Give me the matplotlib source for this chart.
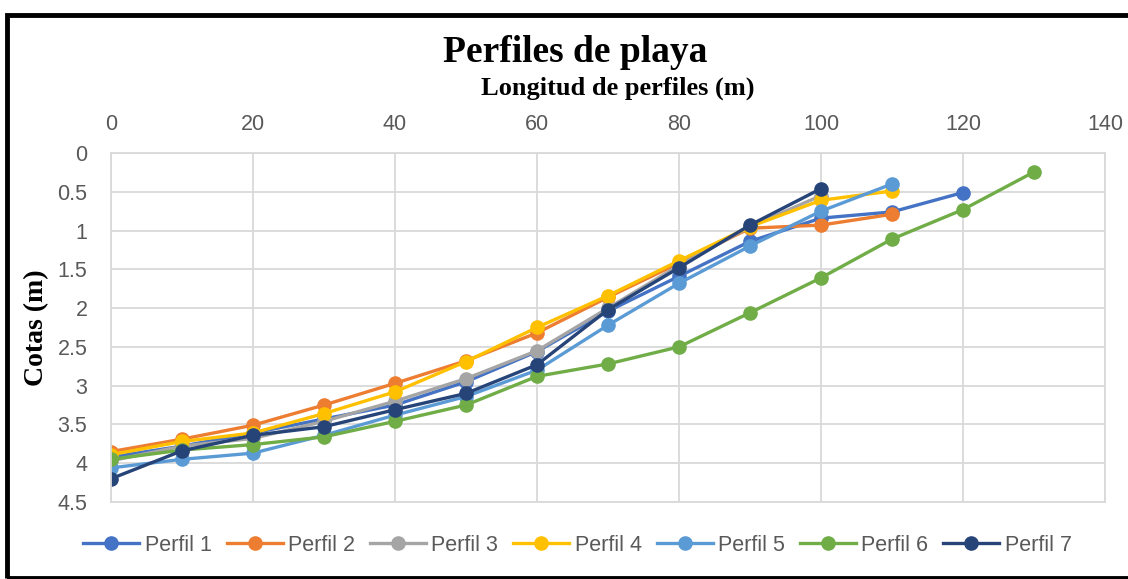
import matplotlib.pyplot as plt
from matplotlib.patches import Rectangle

# Distancias (m) y cotas (m)
dist = [0, 10, 20, 30, 40, 50, 60, 70, 80, 90, 100, 110, 120, 130]

perfil_1 = [3.92, 3.78, 3.61, 3.43, 3.25, 2.95, 2.56, 2.04, 1.59, 1.14, 0.84, 0.76, 0.51]
perfil_2 = [3.85, 3.69, 3.51, 3.25, 2.97, 2.68, 2.32, 1.86, 1.42, 0.97, 0.93, 0.79]
perfil_3 = [3.97, 3.78, 3.68, 3.46, 3.20, 2.91, 2.55, 2.00, 1.45, 0.95, 0.55]
perfil_4 = [3.89, 3.72, 3.61, 3.36, 3.08, 2.69, 2.25, 1.84, 1.39, 0.95, 0.61, 0.49]
perfil_5 = [4.06, 3.95, 3.87, 3.64, 3.38, 3.14, 2.80, 2.22, 1.68, 1.20, 0.75, 0.40]
perfil_6 = [3.95, 3.83, 3.76, 3.66, 3.46, 3.25, 2.88, 2.72, 2.50, 2.06, 1.61, 1.11, 0.73, 0.245]
perfil_7 = [4.20, 3.84, 3.64, 3.53, 3.31, 3.10, 2.73, 2.02, 1.48, 0.93, 0.46]

series = [perfil_1, perfil_2, perfil_3, perfil_4, perfil_5, perfil_6, perfil_7]
labels = ["Perfil 1", "Perfil 2", "Perfil 3", "Perfil 4", "Perfil 5", "Perfil 6", "Perfil 7"]
colors = ["#4472C4", "#ED7D31", "#A5A5A5", "#FFC000", "#5B9BD5", "#70AD47", "#264478"]

x_ticks = [0, 20, 40, 60, 80, 100, 120, 140]
y_ticks = [0, 0.5, 1, 1.5, 2, 2.5, 3, 3.5, 4, 4.5]

sans = "Liberation Sans"
serif = "Liberation Serif"

fig = plt.figure(figsize=(11.28, 5.79), dpi=100)
ax = fig.add_axes([0.0984, 0.133, 0.8812, 0.6028])

for vals, lab, col in zip(series, labels, colors):
    ax.plot(dist[:len(vals)], vals, color=col, lw=2.4, marker="o",
            markersize=9.5, label=lab)

ax.set_xlim(0, 140)
ax.set_ylim(4.5, 0)
ax.set_xticks(x_ticks)
ax.set_yticks(y_ticks)
ax.set_yticklabels([f"{v:g}" for v in y_ticks])
ax.xaxis.tick_top()
ax.xaxis.set_label_position("top")
ax.tick_params(length=0, labelsize=15.5, colors="#595959", pad=17)
ax.tick_params(axis="x", pad=13)
for t in ax.get_xticklabels() + ax.get_yticklabels():
    t.set_family(sans)
ax.grid(True, color="#D9D9D9", lw=1.3)
ax.set_axisbelow(True)
for s in ax.spines.values():
    s.set_color("#D9D9D9")
    s.set_linewidth(1.3)

ax.set_xlabel("Longitud de perfiles (m)", family=serif, weight="bold", fontsize=19)
ax.xaxis.label.set_va("center")
ax.xaxis.set_label_coords(0.51, 1.186)
ax.set_ylabel("Cotas (m)", family=serif, weight="bold", fontsize=20)
ax.yaxis.label.set_va("center")
ax.yaxis.set_label_coords(-0.0744, 0.5)
fig.text(0.5098, 0.910, "Perfiles de playa", ha="center", va="center",
         family=serif, weight="bold", fontsize=27)

leg = fig.legend(loc="center", bbox_to_anchor=(0.512, 0.058), ncol=7,
                 frameon=False, prop={"family": sans, "size": 15.5},
                 handlelength=2.6, columnspacing=0.7, handletextpad=0.25,
                 labelcolor="#595959")

# marco del grafico
fig.patches.append(Rectangle((0.0062, 0.002), 1.2, 0.972, transform=fig.transFigure,
                             fill=False, edgecolor="black", lw=3.5))

fig.savefig("out.png", dpi=100)
